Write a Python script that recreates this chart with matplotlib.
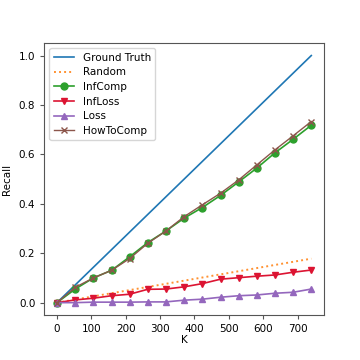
import matplotlib
matplotlib.use('Agg')
import matplotlib.pyplot as plt

# K values and recall per method
K = [0, 53, 106, 159, 211, 264, 317, 370, 423, 476, 529, 581, 634, 687, 740]
ground_truth = [0.0, 1.0]
gt_k = [0, 740]
random_k = [0, 740]
random_recall = [0.0, 0.178]
infcomp = [0.0, 0.055, 0.100, 0.131, 0.185, 0.243, 0.290, 0.342, 0.385,
           0.434, 0.489, 0.544, 0.606, 0.661, 0.718]
infloss = [0.0, 0.011, 0.018, 0.028, 0.034, 0.054, 0.055, 0.064, 0.077,
           0.095, 0.101, 0.107, 0.112, 0.123, 0.132]
loss = [0.0, 0.0, 0.002, 0.002, 0.002, 0.003, 0.003, 0.010, 0.014,
        0.022, 0.028, 0.031, 0.038, 0.042, 0.055]
howtocomp = [0.0, 0.062, 0.100, 0.131, 0.178, 0.240, 0.290, 0.348, 0.396,
             0.443, 0.497, 0.557, 0.618, 0.675, 0.733]

plt.rcParams['font.size'] = 7.5

fig = plt.figure(figsize=(3.6, 3.6), dpi=100)
ax = fig.add_axes([0.123, 0.125, 0.777, 0.755])

ax.plot(gt_k, ground_truth, color='#1f77b4', lw=1.2, label='Ground Truth')
ax.plot(random_k, random_recall, color='#ff7f0e', lw=1.4, ls=(0, (1, 1.6)), alpha=0.85, label='Random')
ax.plot(K, infcomp, color='#2ca02c', lw=1.2, marker='o', ms=5, label='InfComp')
ax.plot(K, infloss, color='#dc1432', lw=1.2, marker='v', ms=5, label='InfLoss')
ax.plot(K, loss, color='#9467bd', lw=1.2, marker='^', ms=5, label='Loss')
ax.plot(K, howtocomp, color='#8c564b', lw=1.0, marker='x', ms=4.5, label='HowToComp')

ax.set_xlabel('K', labelpad=1)
ax.set_ylabel('Recall', labelpad=5)
ax.set_xticks(range(0, 800, 100))
ax.set_yticks([0.0, 0.2, 0.4, 0.6, 0.8, 1.0])
for s in ax.spines.values():
    s.set_color('#555555')
ax.tick_params(length=3, color='#555555')
ax.legend(loc='upper left', fontsize=7.5, handlelength=2.0, labelspacing=0.45)

fig.savefig('out.png', dpi=100)
